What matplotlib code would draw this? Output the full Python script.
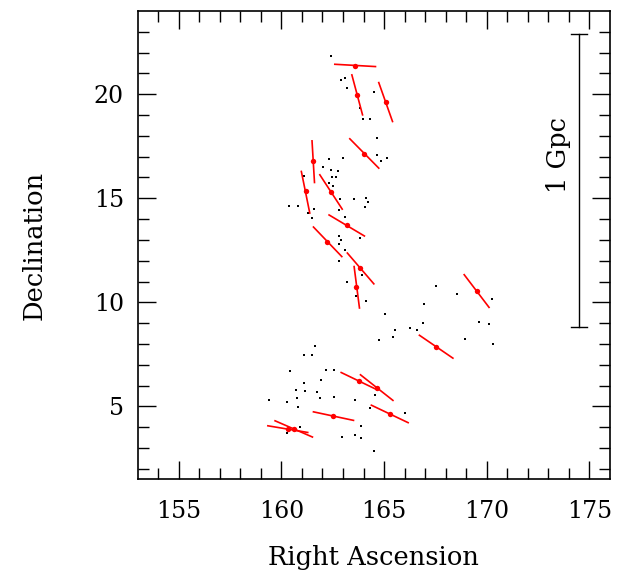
import numpy as np
import matplotlib
matplotlib.use("Agg")
import matplotlib.pyplot as plt

# galaxias (puntos negros)
ra_gal = [162.39, 162.91, 163.09, 163.21, 164.52, 163.83, 163.98, 164.29, 164.66, 164.63,
          164.86, 165.15, 162.31, 163.02, 162.04, 162.43, 162.75, 161.10, 162.47, 162.66,
          162.34, 162.50, 162.86, 163.54, 164.14, 164.22, 164.08, 160.39, 160.83, 161.59,
          161.31, 161.49, 162.81, 163.09, 162.81, 163.83, 162.92, 162.82, 163.09, 162.82,
          163.92, 163.21, 163.64, 164.14, 167.52, 168.56, 166.92, 165.02, 165.55, 165.43,
          166.27, 166.58, 166.89, 170.25, 169.60, 170.09, 168.94, 170.28, 164.73, 161.64,
          161.09, 161.48, 160.44, 162.16, 162.58, 161.09, 161.95, 160.71, 161.17, 161.72,
          160.76, 161.87, 162.57, 163.59, 164.56, 159.41, 160.29, 160.83, 164.32, 166.04,
          163.88, 162.94, 163.59, 163.88, 164.53, 160.91, 160.28]
dec_gal = [21.84, 20.67, 20.80, 20.29, 20.10, 19.33, 18.80, 18.80, 17.92, 17.09,
           16.80, 16.96, 16.90, 16.95, 16.50, 16.38, 16.32, 16.07, 16.03, 16.03,
           15.73, 15.57, 14.95, 14.98, 15.03, 14.84, 14.58, 14.61, 14.61, 14.51,
           14.29, 14.05, 14.44, 14.10, 13.20, 13.11, 12.98, 12.81, 12.52, 11.97,
           11.30, 11.00, 10.31, 10.07, 10.80, 10.41, 9.93, 9.45, 8.66, 8.36,
           8.76, 8.68, 9.01, 10.18, 9.08, 8.98, 8.25, 7.99, 8.21, 7.89,
           7.46, 7.46, 6.71, 6.74, 6.76, 6.15, 6.29, 5.81, 5.72, 5.70,
           5.40, 5.40, 5.46, 5.30, 5.57, 5.29, 5.22, 4.96, 4.92, 4.68,
           4.07, 3.54, 3.61, 3.50, 2.84, 4.02, 3.70]

# cúmulos (puntos rojos) y extremos de sus segmentos
ra_cl = [163.59, 163.69, 165.07, 164.04, 161.56, 161.19, 162.41, 163.17, 162.24, 163.85,
         163.65, 169.50, 167.54, 163.78, 164.63, 165.28, 162.53, 160.31, 160.60]
dec_cl = [21.38, 19.98, 19.63, 17.15, 16.77, 15.33, 15.31, 13.70, 12.88, 11.63,
          10.72, 10.55, 7.86, 6.21, 5.88, 4.65, 4.53, 3.93, 3.93]
ra_a = [162.60, 163.43, 164.74, 163.33, 161.49, 160.97, 161.87, 162.32, 161.56, 163.21,
        163.54, 168.90, 166.72, 162.91, 163.85, 164.38, 161.56, 159.34, 159.69]
dec_a = [21.44, 20.93, 20.56, 17.86, 17.76, 16.29, 16.13, 14.20, 13.62, 12.37,
         11.72, 11.33, 8.42, 6.63, 6.52, 5.06, 4.74, 4.07, 4.31]
ra_b = [164.58, 163.95, 165.41, 164.74, 161.61, 161.38, 162.96, 164.04, 162.94, 164.50,
        163.80, 170.11, 168.35, 164.66, 165.43, 166.17, 163.51, 161.28, 161.51]
dec_b = [21.33, 19.01, 18.69, 16.45, 15.76, 14.29, 14.48, 13.19, 12.20, 10.89,
         9.73, 9.76, 7.32, 5.80, 5.29, 4.22, 4.33, 3.75, 3.53]

# barra de escala
escala_ra = 174.5
escala_dec = [8.84, 22.9]

plt.rcParams['font.family'] = ['DejaVu Serif']
fig = plt.figure(figsize=(6.31, 5.88), dpi=100)
ax = fig.add_axes([0.2182, 0.1849, 0.7485, 0.7964])

ax.scatter(ra_gal, dec_gal, s=3, c='black', marker='s', linewidths=0)
for i in range(len(ra_cl)):
    ax.plot([ra_a[i], ra_b[i]], [dec_a[i], dec_b[i]], color='red', lw=1.2)
ax.scatter(ra_cl, dec_cl, s=15, c='red', linewidths=0, zorder=3)

ax.plot([escala_ra, escala_ra], escala_dec, color='black', lw=1)
ax.plot([escala_ra - 0.39, escala_ra + 0.39], [escala_dec[0]] * 2, color='black', lw=1)
ax.plot([escala_ra - 0.39, escala_ra + 0.39], [escala_dec[1]] * 2, color='black', lw=1)
ax.text(173.5, 17.1, '1 Gpc', rotation=90, ha='center', va='center', fontsize=18.5)

ax.set_xlim(153, 176)
ax.set_ylim(1.5, 24)
ax.set_xticks([155, 160, 165, 170, 175])
ax.set_yticks([5, 10, 15, 20])
ax.set_xticks(np.arange(154, 176, 1), minor=True)
ax.set_yticks(np.arange(2, 24, 1), minor=True)
ax.tick_params(which='both', direction='in', top=True, right=True, labelsize=17, width=1)
ax.tick_params(which='major', length=13)
ax.tick_params(axis='x', which='major', pad=15)
ax.tick_params(axis='y', which='major', pad=10)
ax.tick_params(which='minor', length=8)
for s in ax.spines.values():
    s.set_linewidth(1.2)

ax.set_xlabel('Right Ascension', fontsize=18.5, labelpad=16)
ax.set_ylabel('Declination', fontsize=18.5, labelpad=34)

fig.savefig('out.png', dpi=100)
